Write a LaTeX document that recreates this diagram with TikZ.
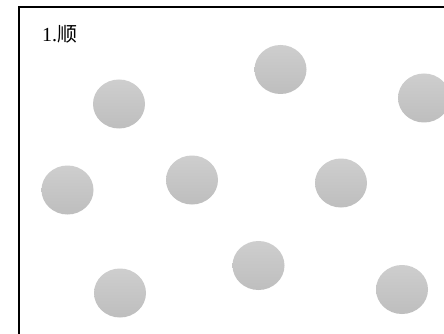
\documentclass[tikz,border=0pt]{standalone}
\usepackage{fontspec}
\setmainfont{Liberation Serif}
\newfontfamily\cjk{Noto Sans CJK SC}
\usetikzlibrary{shapes.geometric}
\definecolor{balltop}{HTML}{CECECE}
\definecolor{ballbot}{HTML}{BEBEBE}
\tikzset{
  ball/.style={ellipse, minimum width=52pt, minimum height=49pt, inner sep=0pt,
    top color=balltop, bottom color=ballbot, draw=none},
  frameline/.style={line width=1.8pt, black},
  titletext/.style={anchor=base west, inner sep=0pt, font=\fontsize{20}{22}\selectfont}
}
\begin{document}
\begin{tikzpicture}[x=1pt,y=-1pt]
\useasboundingbox (0,0) rectangle (444,334);
\fill[white] (0,0) rectangle (444,334);
\coordinate (fb) at (19,336);
\coordinate (fc) at (19,7);
\coordinate (fr) at (446,7);
\draw[frameline] (fb) -- (fc) -- (fr);
\node[titletext] (title) at (42,42) {1.{\cjk\fontsize{20}{22}\selectfont 顺}};
\node[ball] (c1) at (119,104) {};
\node[ball] (c2) at (280.5,69.5) {};
\node[ball] (c3) at (424,98) {};
\node[ball] (c4) at (67.5,190) {};
\node[ball] (c5) at (192,180) {};
\node[ball] (c6) at (341,183) {};
\node[ball] (c7) at (258.5,265.5) {};
\node[ball] (c8) at (120,293) {};
\node[ball] (c9) at (402,289.5) {};
\end{tikzpicture}
\end{document}
